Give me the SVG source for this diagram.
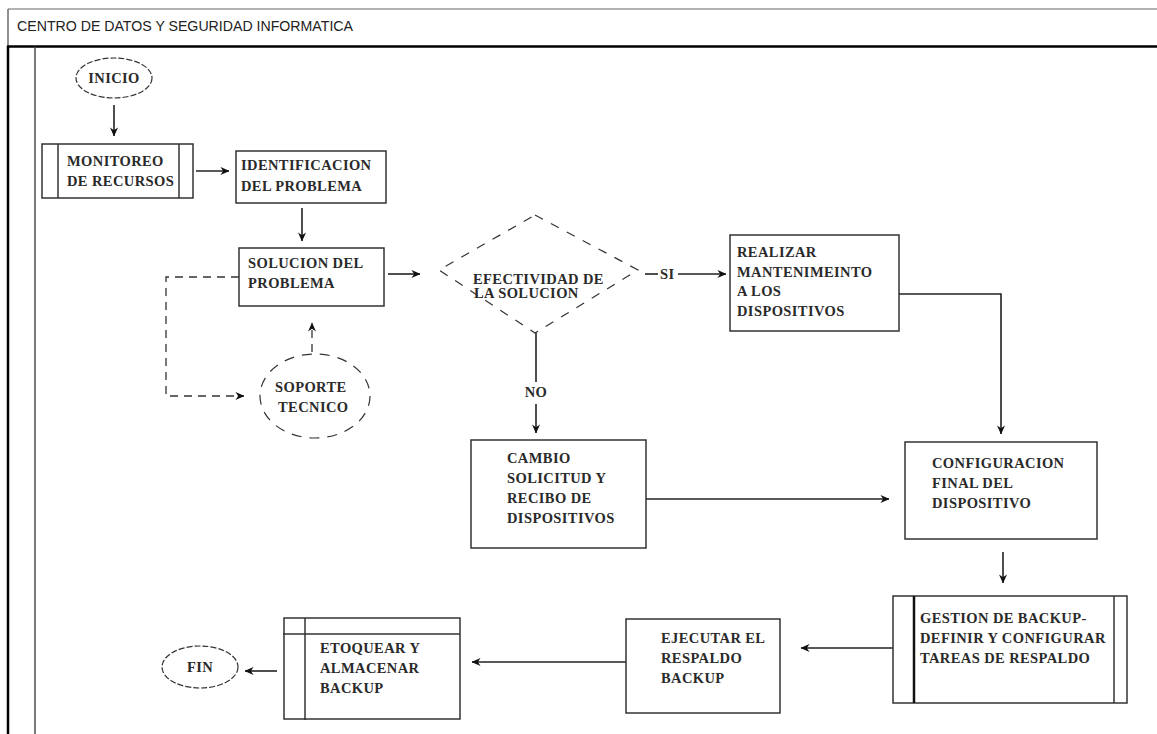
<svg xmlns="http://www.w3.org/2000/svg" width="1157" height="734" viewBox="0 0 1157 734">
<defs>
<marker id="ah" viewBox="0 0 10 10" refX="9.5" refY="5" markerWidth="9" markerHeight="9" markerUnits="userSpaceOnUse" orient="auto">
<path d="M0,0.5 L10,5 L0,9.5 L3,5 z" fill="#111"/>
</marker>
</defs>
<style>
.box{fill:#fff;stroke:#333;stroke-width:1.5}
.ln{fill:none;stroke:#333;stroke-width:1.5}
.dash{fill:none;stroke:#333;stroke-width:1.3;stroke-dasharray:8 6}
.t{font-family:"Liberation Serif",serif;font-size:14.5px;font-weight:bold;letter-spacing:0.4px;fill:#2a2a2a}
.hd{font-family:"Liberation Sans",Arial,sans-serif;font-size:14px;fill:#222}
.c{fill:none;stroke:#222;stroke-width:1.6}
</style>
<rect width="1157" height="734" fill="#fff"/>
<g id="lane">
<line x1="8" y1="9" x2="1157" y2="9" stroke="#666" stroke-width="1.2"/>
<line x1="8" y1="9" x2="8" y2="46" stroke="#555" stroke-width="1.3"/>
<line x1="7" y1="46.5" x2="1157" y2="46.5" stroke="#000" stroke-width="2.5"/>
<line x1="8" y1="46" x2="8" y2="734" stroke="#000" stroke-width="2.5"/>
<line x1="35" y1="46" x2="35" y2="734" stroke="#333" stroke-width="1.3"/>
<text class="hd" x="17" y="31" textLength="336" lengthAdjust="spacingAndGlyphs">CENTRO DE DATOS Y SEGURIDAD INFORMATICA</text>
</g>
<g id="connectors">
<path class="c" d="M114,105 L114,136" marker-end="url(#ah)"/>
<path class="c" d="M196,171 L229,171" marker-end="url(#ah)"/>
<path class="c" d="M302,208 L302,241" marker-end="url(#ah)"/>
<path class="c" d="M388,274 L420,274" marker-end="url(#ah)"/>
<path class="c" d="M645,274 L658,274"/>
<text class="t" x="660" y="279" font-weight="normal">SI</text>
<path class="c" d="M678,274 L726,274" marker-end="url(#ah)"/>
<path class="c" d="M899,294 L1001,294 L1001,434" marker-end="url(#ah)"/>
<path class="c" d="M536,333 L536,382"/>
<text class="t" x="536" y="397" text-anchor="middle" font-weight="normal">NO</text>
<path class="c" d="M536,404 L536,433" marker-end="url(#ah)"/>
<path class="c" d="M646,499 L889,499" marker-end="url(#ah)"/>
<path class="c" d="M1003,552 L1003,583" marker-end="url(#ah)"/>
<path class="c" d="M893,648 L801,648" marker-end="url(#ah)"/>
<path class="c" d="M626,662 L472,662" marker-end="url(#ah)"/>
<path class="c" d="M277,671 L245,671" marker-end="url(#ah)"/>
<path class="dash" d="M239,277 L166,277 L166,396 L244,396" marker-end="url(#ah)"/>
<path class="dash" d="M312,352 L312,323" stroke-dasharray="5 5" marker-end="url(#ah)"/>
</g>
<g id="inicio">
<ellipse cx="114" cy="78" rx="38" ry="20" fill="#fff" stroke="#333" stroke-width="1.2" stroke-dasharray="6 2"/>
<text class="t" x="114" y="83" text-anchor="middle">INICIO</text>
</g>
<g id="monitoreo">
<rect class="box" x="42" y="144" width="151" height="54"/>
<line class="ln" x1="58" y1="144" x2="58" y2="198"/>
<line class="ln" x1="179" y1="144" x2="179" y2="198"/>
<text class="t" x="67" y="166">MONITOREO</text>
<text class="t" x="67" y="186">DE RECURSOS</text>
</g>
<g id="identificacion">
<rect class="box" x="236" y="151" width="150" height="52"/>
<text class="t" x="241" y="170">IDENTIFICACION</text>
<text class="t" x="241" y="191">DEL PROBLEMA</text>
</g>
<g id="solucion">
<rect class="box" x="239" y="248" width="145" height="58"/>
<text class="t" x="248" y="268">SOLUCION DEL</text>
<text class="t" x="248" y="288">PROBLEMA</text>
</g>
<g id="soporte">
<ellipse cx="315" cy="396" rx="55" ry="42" fill="#fff" stroke="#333" stroke-width="1.2" stroke-dasharray="10 8"/>
<text class="t" x="275" y="392">SOPORTE</text>
<text class="t" x="278" y="412">TECNICO</text>
</g>
<g id="efectividad">
<polygon points="535,215 638,270 535,333 439,270" fill="#fff" stroke="#333" stroke-width="1.2" stroke-dasharray="9 9"/>
<text class="t" x="473" y="284">EFECTIVIDAD DE</text>
<text class="t" x="474" y="298">LA SOLUCION</text>
</g>
<g id="realizar">
<rect class="box" x="730" y="235" width="169" height="96"/>
<text class="t" x="737" y="257">REALIZAR</text>
<text class="t" x="737" y="277">MANTENIMEINTO</text>
<text class="t" x="737" y="296">A LOS</text>
<text class="t" x="737" y="316">DISPOSITIVOS</text>
</g>
<g id="cambio">
<rect class="box" x="471" y="440" width="175" height="108"/>
<text class="t" x="507" y="463">CAMBIO</text>
<text class="t" x="507" y="483">SOLICITUD Y</text>
<text class="t" x="507" y="503">RECIBO DE</text>
<text class="t" x="507" y="523">DISPOSITIVOS</text>
</g>
<g id="configuracion">
<rect class="box" x="905" y="442" width="192" height="97"/>
<text class="t" x="932" y="468">CONFIGURACION</text>
<text class="t" x="932" y="488">FINAL DEL</text>
<text class="t" x="932" y="508">DISPOSITIVO</text>
</g>
<g id="gestion">
<rect class="box" x="893" y="596" width="234" height="107"/>
<line x1="914" y1="596" x2="914" y2="703" stroke="#111" stroke-width="2.5"/>
<line class="ln" x1="1114" y1="596" x2="1114" y2="703"/>
<text class="t" x="920" y="623">GESTION DE BACKUP-</text>
<text class="t" x="920" y="643">DEFINIR Y CONFIGURAR</text>
<text class="t" x="920" y="663">TAREAS DE RESPALDO</text>
</g>
<g id="ejecutar">
<rect class="box" x="626" y="619" width="154" height="94"/>
<text class="t" x="661" y="643">EJECUTAR EL</text>
<text class="t" x="661" y="663">RESPALDO</text>
<text class="t" x="661" y="683">BACKUP</text>
</g>
<g id="etoquear">
<rect class="box" x="284" y="618" width="176" height="101"/>
<line class="ln" x1="283" y1="634" x2="460" y2="634"/>
<line class="ln" x1="305" y1="618" x2="305" y2="720"/>
<text class="t" x="320" y="653">ETOQUEAR Y</text>
<text class="t" x="320" y="673">ALMACENAR</text>
<text class="t" x="320" y="693">BACKUP</text>
</g>
<g id="fin">
<ellipse cx="200" cy="667" rx="38" ry="21" fill="#fff" stroke="#333" stroke-width="1.2" stroke-dasharray="6 2"/>
<text class="t" x="200" y="672" text-anchor="middle">FIN</text>
</g>
</svg>
